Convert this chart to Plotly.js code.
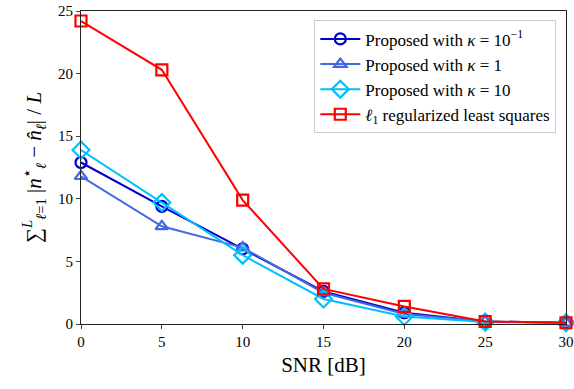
<!DOCTYPE html>
<html><head><meta charset="utf-8">
<script src="https://cdn.plot.ly/plotly-3.0.1.min.js"></script>
<style>html,body{margin:0;padding:0;background:#fff}#chart{width:574px;height:389px}</style>
</head><body><div id="chart"></div>
<script>
const snr = [0, 5, 10, 15, 20, 25, 30];
const kappa01 = [12.9, 9.4, 6.0, 2.6, 0.9, 0.2, 0.1];
const kappa1 = [11.8, 7.8, 6.1, 2.5, 0.8, 0.2, 0.1];
const kappa10 = [13.9, 9.7, 5.5, 2.0, 0.6, 0.15, 0.1];
const l1ls = [24.2, 20.3, 9.9, 2.8, 1.4, 0.2, 0.1];
const yTicks = [0, 5, 10, 15, 20, 25];
const names = ['Proposed with <i>κ</i> = 10<sup>−1</sup>', 'Proposed with <i>κ</i> = 1', 'Proposed with <i>κ</i> = 10', '<i>ℓ</i><sub>1</sub> regularized least squares'];
const colors = ['#0000CD', '#4169E1', '#00BFFF', '#FF0000'];
const symbols = ['circle-open', 'triangle-up-open', 'diamond-open', 'square-open'];
const series = [kappa01, kappa1, kappa10, l1ls];
const traces = series.map((y, i) => ({
  x: snr, y: y, name: names[i], type: 'scatter', mode: 'lines+markers', cliponaxis: false,
  line: {color: colors[i], width: 2},
  marker: {symbol: symbols[i], size: i === 2 ? 13 : 11, color: colors[i], line: {color: colors[i], width: 2.2}}
}));
const font = 'Liberation Serif';
const layout = {
  width: 574, height: 389,
  margin: {l: 81, r: 8, t: 11, b: 65},
  paper_bgcolor: '#fff', plot_bgcolor: '#fff',
  font: {family: font, color: '#000', size: 14},
  showlegend: true,
  legend: {x: 0.98, y: 0.97, xanchor: 'right', yanchor: 'top', bordercolor: '#cccccc', borderwidth: 1, bgcolor: 'rgba(255,255,255,0.8)', font: {family: font, size: 17, color: '#000'}, tracegroupgap: 0, itemwidth: 40},
  xaxis: {range: [0, 30], tickvals: snr, ticks: 'outside', ticklen: 4, showgrid: false, zeroline: false, showline: true, linecolor: '#222', linewidth: 1, mirror: true,
    tickfont: {family: font, size: 15, color: '#000'}, title: {text: 'SNR [dB]', font: {family: font, size: 21, color: '#000'}, standoff: 8}},
  yaxis: {range: [0, 25], tickvals: yTicks, ticks: 'outside', ticklen: 4, showgrid: false, zeroline: false, showline: true, linecolor: '#222', linewidth: 1, mirror: true,
    tickfont: {family: font, size: 15, color: '#000'}, title: {text: '∑<sup><i>L</i></sup><sub><i>ℓ</i>=1</sub> |<i>n</i><sup>⋆</sup><sub><i>ℓ</i></sub> − <i>n̂</i><sub><i>ℓ</i></sub>| / <i>L</i>', font: {family: font, size: 21, color: '#000'}, standoff: 10}}
};
Plotly.newPlot('chart', traces, layout, {displayModeBar: false, staticPlot: true});
</script></body></html>
